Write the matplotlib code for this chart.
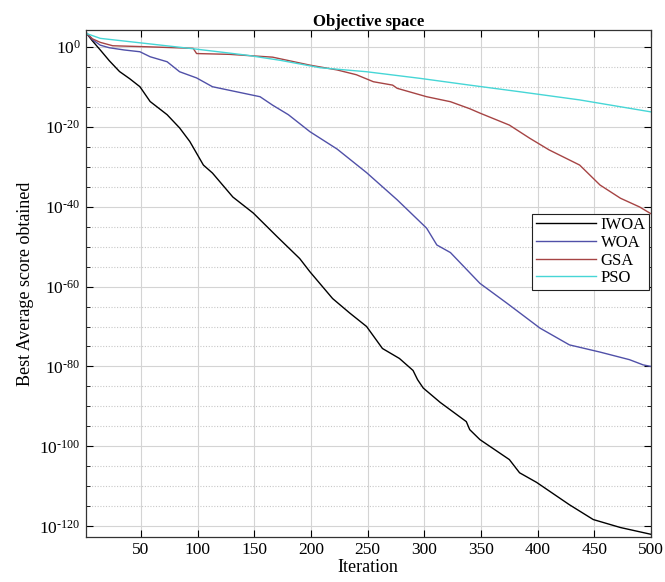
import numpy as np
import matplotlib
matplotlib.use("Agg")
import matplotlib.pyplot as plt
from matplotlib.ticker import FixedLocator, FuncFormatter, NullFormatter

plt.rcParams["font.family"] = ["Liberation Serif", "DejaVu Serif"]
plt.rcParams["mathtext.fontset"] = "custom"
plt.rcParams["mathtext.rm"] = "Liberation Serif"
plt.rcParams["mathtext.it"] = "Liberation Serif:italic"
plt.rcParams["mathtext.bf"] = "Liberation Serif:bold"

# valeurs (exposants base 10)
iwoa_iter = [1, 7, 14, 22, 31, 40, 49, 58, 73, 84, 93, 105, 113, 131, 149, 170, 190, 199,
             219, 234, 249, 263, 278, 290, 294, 299, 314, 337, 340, 349, 375, 384, 399,
             428, 449, 473, 500]
iwoa_exp = [3.7, 1.5, -0.8, -3.5, -6.2, -8.0, -10.0, -13.7, -17.0, -20.3, -23.7, -29.6,
            -31.6, -37.6, -41.6, -47.5, -53.0, -56.3, -63.0, -66.6, -70.0, -75.5, -78.0,
            -81.0, -83.3, -85.4, -89.0, -93.8, -95.8, -98.3, -103.3, -106.6, -109.0,
            -114.6, -118.3, -120.3, -122.0]

woa_iter = [1, 7, 14, 22, 35, 49, 58, 73, 84, 99, 113, 134, 155, 166, 180, 199, 223, 249,
            276, 302, 311, 323, 349, 373, 402, 428, 455, 481, 493, 500]
woa_exp = [3.7, 1.8, 0.4, -0.25, -0.8, -1.25, -2.5, -3.75, -6.25, -7.8, -10.0, -11.25,
           -12.5, -14.6, -17.0, -21.25, -25.6, -31.5, -38.3, -45.4, -49.6, -51.5, -59.2,
           -64.2, -70.4, -74.6, -76.4, -78.3, -79.6, -80.0]

gsa_iter = [1, 7, 14, 25, 55, 96, 99, 128, 166, 199, 223, 240, 255, 272, 276, 302, 323,
            340, 349, 375, 393, 410, 437, 455, 473, 490, 500]
gsa_exp = [3.7, 2.0, 1.1, 0.25, 0.0, -0.4, -1.7, -1.9, -2.6, -4.6, -5.8, -7.0, -8.75,
           -9.6, -10.4, -12.5, -13.75, -15.5, -16.6, -19.6, -22.9, -25.8, -29.6, -34.6,
           -37.9, -40.1, -41.8]

pso_iter = [1, 14, 55, 99, 143, 173, 208, 249, 296, 340, 384, 437, 500]
pso_exp = [3.4, 2.1, 0.8, -0.6, -2.1, -3.4, -5.25, -6.25, -7.9, -9.6, -11.25, -13.3, -16.3]

series = [
    ("IWOA", iwoa_iter, iwoa_exp, "#000000"),
    ("WOA", woa_iter, woa_exp, "#5050a8"),
    ("GSA", gsa_iter, gsa_exp, "#a64444"),
    ("PSO", pso_iter, pso_exp, "#46d6d6"),
]


def pow10_label(v, pos):
    e = int(round(np.log10(v)))
    if e < 0:
        return r"$10^{\text{-}%d}$" % (-e)
    return r"$10^{%d}$" % e


fig = plt.figure(figsize=(6.65, 5.82), dpi=100)
ax = fig.add_axes([0.1286, 0.0778, 0.8504, 0.8707])

for name, it, ex, col in series:
    ax.semilogy(it, 10.0 ** np.array(ex), color=col, lw=1.0, label=name)

ax.set_xlim(1, 500)
ax.set_ylim(10.0 ** -122.6, 10.0 ** 4.2)
ax.set_xticks(np.arange(50, 501, 50))
ax.yaxis.set_major_locator(FixedLocator(10.0 ** np.arange(-120, 1, 20)))
ax.yaxis.set_minor_locator(FixedLocator(10.0 ** np.arange(-120, 5, 5)))
ax.yaxis.set_major_formatter(FuncFormatter(pow10_label))
ax.yaxis.set_minor_formatter(NullFormatter())

ax.grid(True, which="major", color="#d4d4d4", lw=0.8, ls="-")
ax.grid(True, which="minor", axis="y", color="#c8c8c8", lw=0.8, ls=(0, (1, 1.5)))
ax.set_axisbelow(True)

ax.tick_params(which="both", direction="in", top=True, right=True, labelsize=12.5)
ax.tick_params(which="major", length=5)
ax.tick_params(which="minor", length=3)
for sp in ax.spines.values():
    sp.set_color("#333333")
    sp.set_linewidth(0.9)

ax.set_title("Objective space", fontsize=12, fontweight="bold", pad=3)
ax.set_xlabel("Iteration", fontsize=13, labelpad=1)
ax.set_ylabel("Best Average score obtained", fontsize=13, labelpad=4)

leg = ax.legend(loc="upper left", bbox_to_anchor=(0.79, 0.637), fontsize=12,
                frameon=True, fancybox=False, edgecolor="#222222", framealpha=1,
                borderpad=0.2, labelspacing=0.1, handlelength=3.6, handletextpad=0.3,
                borderaxespad=0)
leg.get_frame().set_linewidth(0.8)

fig.savefig("out.png", dpi=100)
